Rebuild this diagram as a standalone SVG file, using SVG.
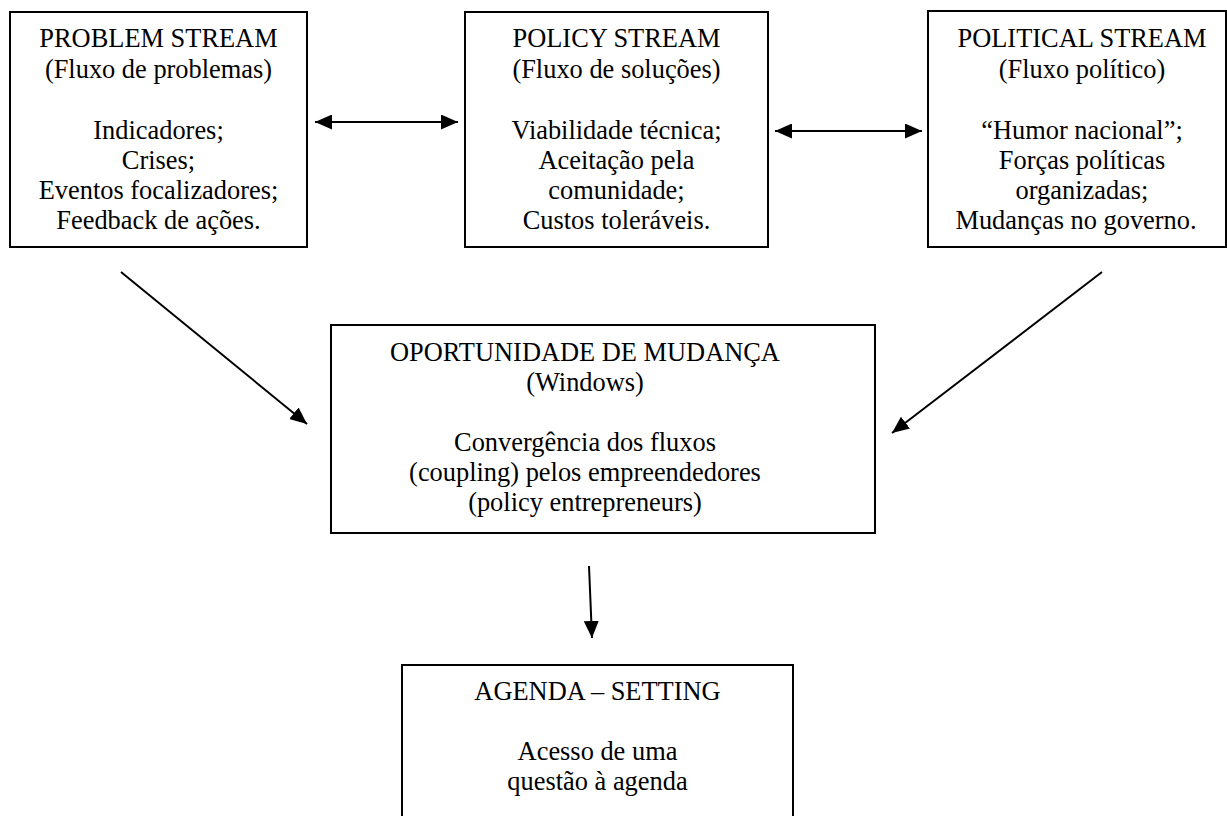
<svg xmlns="http://www.w3.org/2000/svg" width="1227" height="816" viewBox="0 0 1227 816">
<style>
.box{fill:#fff;stroke:#000;stroke-width:2}
text{font-family:"Liberation Serif","Times New Roman",serif;font-size:26.4px;fill:#000;text-anchor:middle}
.conn{stroke:#000;stroke-width:2;fill:none}
</style>
<defs>
<marker id="ah" viewBox="0 0 17 15" refX="17" refY="7.5" markerWidth="17" markerHeight="15" markerUnits="userSpaceOnUse" orient="auto-start-reverse">
<path d="M0,0 L17,7.5 L0,15 Z" fill="#000"/>
</marker>
</defs>
<rect width="1227" height="816" fill="#fff"/>
<g id="problem">
<rect class="box" x="10" y="12" width="297" height="235"/>
<text x="158.5" y="47">PROBLEM STREAM</text>
<text x="158.5" y="78">(Fluxo de problemas)</text>
<text x="158.5" y="139">Indicadores;</text>
<text x="158.5" y="169">Crises;</text>
<text x="158.5" y="199">Eventos focalizadores;</text>
<text x="158.5" y="229">Feedback de ações.</text>
</g>
<g id="policy">
<rect class="box" x="465" y="12" width="303" height="235"/>
<text x="616.5" y="47">POLICY STREAM</text>
<text x="616.5" y="78">(Fluxo de soluções)</text>
<text x="616.5" y="139">Viabilidade técnica;</text>
<text x="616.5" y="169">Aceitação pela</text>
<text x="616.5" y="199">comunidade;</text>
<text x="616.5" y="229">Custos toleráveis.</text>
</g>
<g id="political">
<rect class="box" x="928" y="11" width="298" height="236"/>
<text x="1082" y="47">POLITICAL STREAM</text>
<text x="1082" y="78">(Fluxo político)</text>
<text x="1082" y="139">“Humor nacional”;</text>
<text x="1082" y="169">Forças políticas</text>
<text x="1082" y="199">organizadas;</text>
<text x="1076" y="229">Mudanças no governo.</text>
</g>
<g id="oportunidade">
<rect class="box" x="331" y="325" width="544" height="208"/>
<text x="585" y="361">OPORTUNIDADE DE MUDANÇA</text>
<text x="585" y="391">(Windows)</text>
<text x="585" y="451">Convergência dos fluxos</text>
<text x="585" y="481">(coupling) pelos empreendedores</text>
<text x="585" y="511">(policy entrepreneurs)</text>
</g>
<g id="agenda">
<rect class="box" x="402" y="665" width="391" height="160"/>
<text x="597.5" y="700">AGENDA – SETTING</text>
<text x="597.5" y="760">Acesso de uma</text>
<text x="597.5" y="790">questão à agenda</text>
</g>
<g id="connectors">
<line class="conn" x1="315" y1="122" x2="458" y2="122" marker-start="url(#ah)" marker-end="url(#ah)"/>
<line class="conn" x1="775" y1="131" x2="922" y2="131" marker-start="url(#ah)" marker-end="url(#ah)"/>
<line class="conn" x1="121" y1="272" x2="307" y2="424" marker-end="url(#ah)"/>
<line class="conn" x1="1102" y1="272" x2="892" y2="433" marker-end="url(#ah)"/>
<line class="conn" x1="589" y1="566" x2="592" y2="638" marker-end="url(#ah)"/>
</g>
</svg>
